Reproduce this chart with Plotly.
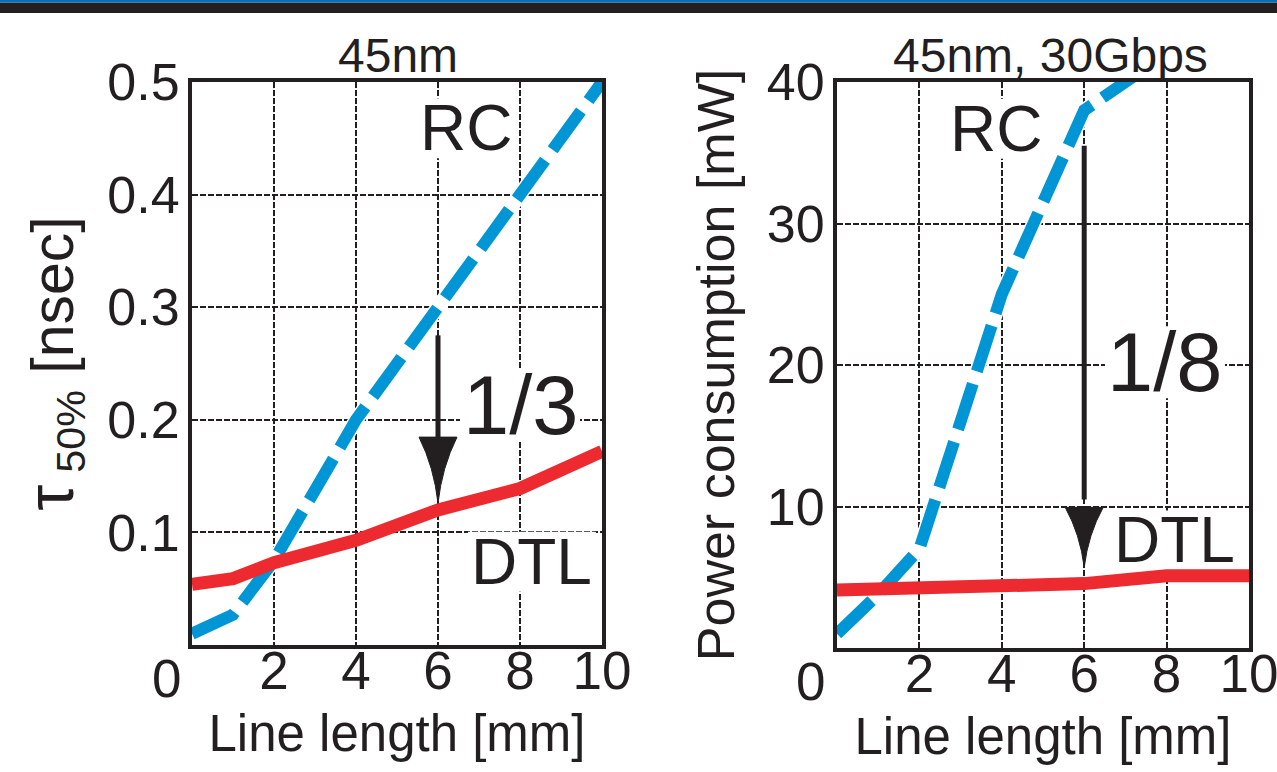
import plotly.graph_objects as go

# ---- data ----
length_left = [0, 1, 2, 4, 6, 8, 10]
rc_delay = [0.010, 0.027, 0.075, 0.200, 0.300, 0.400, 0.500]
dtl_delay = [0.054, 0.059, 0.073, 0.093, 0.120, 0.139, 0.172]

length_right_rc = [0, 1, 2, 4, 6, 8]
rc_power = [1.0, 3.8, 7.0, 25.0, 38.0, 42.0]
length_right_dtl = [0, 2, 4, 6, 8, 10]
dtl_power = [4.1, 4.25, 4.4, 4.55, 5.1, 5.1]

x_ticks = [2, 4, 6, 8, 10]
y_ticks_left = [0.1, 0.2, 0.3, 0.4, 0.5]
y_ticks_right = [10, 20, 30, 40]

FONT = "Liberation Sans, Arial, Helvetica, sans-serif"
INK = "#231f20"
BLUE = "#0096d6"
RED = "#ec2a30"

fig = go.Figure()

def add_series(xr, yr, xd, yd, xa, ya):
    fig.add_trace(go.Scatter(x=xr, y=yr, mode="lines", xaxis=xa, yaxis=ya,
                             line=dict(color="white", width=15), showlegend=False, hoverinfo="skip"))
    fig.add_trace(go.Scatter(x=xr, y=yr, mode="lines", xaxis=xa, yaxis=ya, name="RC",
                             line=dict(color=BLUE, width=12, dash="48px,13px"), showlegend=False))
    fig.add_trace(go.Scatter(x=xd, y=yd, mode="lines", xaxis=xa, yaxis=ya, name="DTL",
                             line=dict(color=RED, width=13), showlegend=False))

add_series(length_left, rc_delay, length_left, dtl_delay, "x", "y")
add_series(length_right_rc, rc_power, length_right_dtl, dtl_power, "x2", "y2")

W, H = 1277, 772
common_x = dict(range=[0, 10], tickvals=x_ticks, ticktext=[str(v) for v in x_ticks],
                showline=True, mirror=True, linewidth=4, linecolor=INK,
                showgrid=True, gridcolor=INK, gridwidth=1.5, griddash="6px,2px",
                ticks="", zeroline=False, ticklabelstandoff=-24, automargin=False,
                ticklabeloverflow="allow",
                tickfont=dict(size=53, color=INK, family=FONT),
                title=dict(text="Line length [mm]", font=dict(size=51, color=INK, family=FONT), standoff=18))
common_y = dict(showline=True, mirror=True, linewidth=4, linecolor=INK,
                showgrid=True, gridcolor=INK, gridwidth=1.5, griddash="6px,2px",
                ticks="", zeroline=False, ticklabelstandoff=-2, automargin=False,
                tickfont=dict(size=52, color=INK, family=FONT))

fig.update_layout(
    width=W, height=H,
    margin=dict(l=0, r=0, t=0, b=0, autoexpand=False),
    paper_bgcolor="white", plot_bgcolor="white",
    font=dict(family=FONT, color=INK),
    xaxis=dict(domain=[192 / W, 602 / W], anchor="y", **common_x),
    yaxis=dict(domain=[(H - 645) / H, (H - 82) / H], anchor="x", range=[0, 0.5],
               tickvals=y_ticks_left, ticktext=[f"{v:.1f}" for v in y_ticks_left],
               title=dict(text='<span style="font-size:66px">τ</span>\u2009<sub>50%</sub> [nsec]',
                          font=dict(size=59, color=INK, family=FONT), standoff=16),
               **common_y),
    xaxis2=dict(domain=[837 / W, 1249 / W], anchor="y2", **common_x),
    yaxis2=dict(domain=[(H - 648) / H, (H - 82) / H], anchor="x2", range=[0, 40],
                tickvals=y_ticks_right, ticktext=[str(v) for v in y_ticks_right],
                title=dict(text="Power consumption [mW]",
                           font=dict(size=52, color=INK, family=FONT), standoff=17),
                **common_y),
)

# top banner
fig.add_shape(type="rect", xref="paper", yref="paper", x0=0, x1=1, y0=1 - 13 / H, y1=1 - 2.5 / H,
              fillcolor=INK, line_width=0, layer="above")
fig.add_shape(type="rect", xref="paper", yref="paper", x0=0, x1=1, y0=1 - 2.5 / H, y1=1,
              fillcolor="#0a6fb6", line_width=0, layer="above")

# arrows
def arrow(xa, ya, x, y_start, y_base, y_tip, head_len):
    fig.add_shape(type="line", xref=xa, yref=ya, x0=x, x1=x, y0=y_start, y1=y_base,
                  line=dict(color=INK, width=5), layer="above")
    fig.add_shape(type="path", xref=xa, yref=ya, xsizemode="pixel", ysizemode="pixel",
                  xanchor=x, yanchor=y_tip,
                  path=f"M0,0 Q-4,{head_len*0.55:.0f} -19,{head_len} L19,{head_len} Q4,{head_len*0.55:.0f} 0,0 Z",
                  fillcolor=INK, line=dict(color=INK, width=1), layer="above")

arrow("x", "y", 6, 0.275, 0.18, 0.126, 66)
arrow("x2", "y2", 6, 35.5, 10.5, 5.7, 60)

def label(text, xa, ya, x, y, size, half_w, half_h):
    # white knock-out behind the label: hides gridlines, stays under the curves
    fig.add_shape(type="rect", xref=xa, yref=ya, xsizemode="pixel", ysizemode="pixel",
                  xanchor=x, yanchor=y, x0=-half_w, x1=half_w, y0=-half_h, y1=half_h,
                  fillcolor="white", line_width=0, layer="between")
    fig.add_annotation(text=text, xref=xa, yref=ya, x=x, y=y, showarrow=False,
                       font=dict(size=size, color=INK, family=FONT))

label("RC", "x", "y", 6.68, 0.459, 64, 50, 30)
label("1/3", "x", "y", 8.0, 0.213, 83, 60, 36)
label("DTL", "x", "y", 8.29, 0.074, 64, 64, 30)
label("RC", "x2", "y2", 3.86, 36.7, 64, 50, 30)
label("1/8", "x2", "y2", 7.96, 20.2, 83, 60, 36)
label("DTL", "x2", "y2", 8.2, 7.6, 64, 64, 30)

# subplot titles
fig.add_annotation(text="45nm", xref="paper", yref="paper", x=398 / W, y=1 - 55 / H,
                   xanchor="center", yanchor="middle",
                   showarrow=False, font=dict(size=48, color=INK, family=FONT))
fig.add_annotation(text="45nm, 30Gbps", xref="paper", yref="paper", x=1050 / W, y=1 - 55 / H,
                   xanchor="center", yanchor="middle",
                   showarrow=False, font=dict(size=48, color=INK, family=FONT))

# shared corner origin labels
for xa, ya in [("x", "y"), ("x2", "y2")]:
    fig.add_annotation(text="0", xref=xa, yref=ya, x=0, y=0, xanchor="center", yanchor="top",
                       xshift=-26, yshift=-2, showarrow=False,
                       font=dict(size=53, color=INK, family=FONT))

fig.write_html("out.html", post_script="document.body.style.margin='0';",
               config={"displayModeBar": False})
